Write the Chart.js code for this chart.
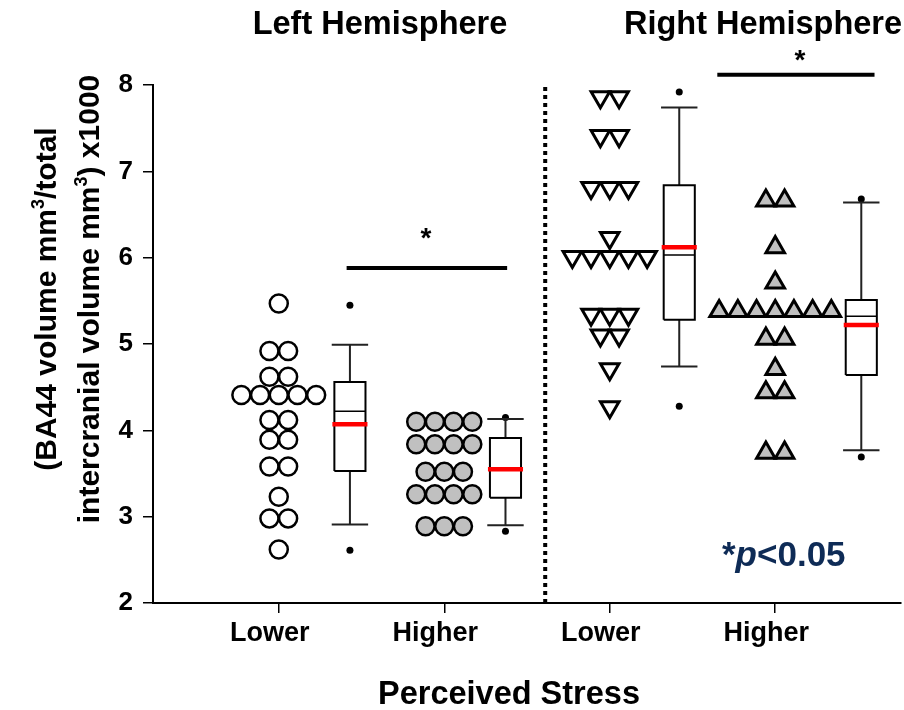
<!DOCTYPE html>
<html>
<head>
<meta charset="utf-8">
<script src="https://cdn.jsdelivr.net/npm/chart.js@4.4.1/dist/chart.umd.min.js"></script>
<style>
  html, body { margin: 0; padding: 0; background: #fff; overflow: hidden; }
  #wrap { width: 904px; height: 710px; }
  canvas { display: block; }
</style>
</head>
<body>
<div id="wrap"><canvas id="chart"></canvas></div>
<script>
const groupLabels = ['Lower', 'Higher', 'Lower', 'Higher']
const hemispheres = ['Left Hemisphere', 'Right Hemisphere']
const yTicks = [2, 3, 4, 5, 6, 7, 8]

// one value per subject
const leftLower = [5.47, 4.92, 4.92, 4.62, 4.62, 4.41, 4.41, 4.41, 4.41, 4.41,
  4.12, 4.12, 3.89, 3.89, 3.58, 3.58, 3.23, 2.98, 2.98, 2.62]
const leftHigher = [4.10, 4.10, 4.10, 4.10, 3.84, 3.84, 3.84, 3.84, 3.52, 3.52, 3.52,
  3.26, 3.26, 3.26, 3.26, 2.89, 2.89, 2.89]
const rightLower = [7.86, 7.86, 7.41, 7.41, 6.81, 6.81, 6.81, 6.23, 6.01, 6.01, 6.01, 6.01, 6.01,
  5.34, 5.34, 5.34, 5.10, 5.10, 4.71, 4.27]
const rightHigher = [6.66, 6.66, 6.12, 5.71, 5.38, 5.38, 5.38, 5.38, 5.38, 5.38, 5.38,
  5.06, 5.06, 4.71, 4.44, 4.44, 3.74, 3.74]

// box plot stats per group
const boxLow = [2.91, 2.90, 4.74, 3.77]
const boxQ1 = [3.53, 3.22, 5.28, 4.64]
const boxMedian = [4.22, 3.56, 6.03, 5.32]
const boxQ3 = [4.56, 3.91, 6.84, 5.51]
const boxHigh = [4.99, 4.13, 7.74, 6.64]
const boxMean = [4.07, 3.55, 6.12, 5.22]
const outlierLow = [2.61, 2.83, 4.28, 3.69]
const outlierHigh = [5.45, 4.15, 7.92, 6.68]

// significance bars
const sigFrom = [1.41, 3.65]
const sigTo = [2.38, 4.60]
const sigLevel = [5.88, 8.12]
const divider = 2.61

// layout
const dotGap = 0.113
const boxShift = [0.43, 0.37, 0.42, 0.52]
const boxHalf = 0.094
const capHalf = 0.11
const starShift = [[-1, -21], [4, -6]]
const FONT = '"Liberation Sans", Arial, sans-serif'
const NAVY = '#0e2b56'

const swarm = (values, center) => {
  const counts = {}
  values.forEach(v => counts[v] = (counts[v] || 0) + 1)
  const seen = {}
  return values.map(v => {
    seen[v] = (seen[v] === undefined) ? 0 : seen[v] + 1
    return { x: center + (seen[v] - (counts[v] - 1) / 2) * dotGap, y: v }
  })
}

const centers = groupLabels.map((_, i) => i + 1 + boxShift[i])
const gap = c => ({ x: c, y: null })

const whiskers = [], caps = [], boxes = [], medians = [], means = [], outliers = []
centers.forEach((c, i) => {
  whiskers.push({ x: c, y: boxHigh[i] }, { x: c, y: boxQ3[i] }, gap(c),
    { x: c, y: boxQ1[i] }, { x: c, y: boxLow[i] }, gap(c))
  caps.push({ x: c - capHalf, y: boxHigh[i] }, { x: c + capHalf, y: boxHigh[i] }, gap(c),
    { x: c - capHalf, y: boxLow[i] }, { x: c + capHalf, y: boxLow[i] }, gap(c))
  boxes.push({ x: c - boxHalf, y: boxQ1[i] }, { x: c - boxHalf, y: boxQ3[i] },
    { x: c + boxHalf, y: boxQ3[i] }, { x: c + boxHalf, y: boxQ1[i] },
    { x: c - boxHalf, y: boxQ1[i] }, gap(c))
  medians.push({ x: c - boxHalf, y: boxMedian[i] }, { x: c + boxHalf, y: boxMedian[i] }, gap(c))
  means.push({ x: c - boxHalf - 0.012, y: boxMean[i] }, { x: c + boxHalf + 0.012, y: boxMean[i] }, gap(c))
  outliers.push({ x: c, y: outlierLow[i] }, { x: c, y: outlierHigh[i] })
})

const lineSet = (data, color, width, extra) => Object.assign({
  data, showLine: true, pointRadius: 0, borderColor: color, borderWidth: width,
  fill: false, borderJoinStyle: 'miter', borderCapStyle: 'butt'
}, extra || {})

const dotSet = (values, center, style, fillColor, extra) => Object.assign({
  data: swarm(values, center), pointStyle: style, pointRadius: 9,
  pointBackgroundColor: fillColor, pointBorderColor: '#000', pointBorderWidth: 2.5
}, extra || {})

const sigSets = sigFrom.map((f, i) => lineSet(
  [{ x: f, y: sigLevel[i] }, { x: sigTo[i], y: sigLevel[i] }], '#000', 4, { clip: false }))

const labelsPlugin = {
  id: 'labelsPlugin',
  afterDraw(chart) {
    const { ctx, scales: { x, y } } = chart
    ctx.save()
    ctx.fillStyle = '#000'
    ctx.textAlign = 'center'
    ctx.textBaseline = 'alphabetic'
    ctx.font = 'bold 32.5px ' + FONT
    ctx.fillText(hemispheres[0], 380, 34)
    ctx.fillText(hemispheres[1], 763, 34)
    ctx.fillText('Perceived Stress', 509, 704)

    // stars over significance bars
    ctx.font = 'bold 28px ' + FONT
    sigFrom.forEach((f, i) => {
      const px = (x.getPixelForValue(f) + x.getPixelForValue(sigTo[i])) / 2
      ctx.fillText('*', px + starShift[i][0], y.getPixelForValue(sigLevel[i]) + starShift[i][1])
    })

    // y axis title with superscripts
    const yTitle = [
      [['(BA44 volume mm', 0], ['3', 1], ['/total', 0]],
      [['intercranial volume mm', 0], ['3', 1], [') x1000', 0]]
    ]
    const big = 'bold 30px ' + FONT, small = 'bold 18px ' + FONT
    yTitle.forEach((parts, li) => {
      let total = 0
      parts.forEach(([t, sup]) => { ctx.font = sup ? small : big; total += ctx.measureText(t).width })
      ctx.save()
      ctx.translate([56, 99][li], 299)
      ctx.rotate(-Math.PI / 2)
      ctx.textAlign = 'left'
      let cx = -total / 2
      parts.forEach(([t, sup]) => {
        ctx.font = sup ? small : big
        ctx.fillText(t, cx, sup ? -12 : 0)
        cx += ctx.measureText(t).width
      })
      ctx.restore()
    })

    // p value note
    ctx.fillStyle = NAVY
    ctx.textAlign = 'left'
    let px = 722
    const pParts = [['*', 'bold 35px '], ['p', 'italic bold 35px '], ['<0.05', 'bold 35px ']]
    pParts.forEach(([t, f]) => {
      ctx.font = f + FONT
      ctx.fillText(t, px, 566)
      px += ctx.measureText(t).width
    })
    ctx.restore()
  }
}

new Chart(document.getElementById('chart'), {
  type: 'scatter',
  data: {
    datasets: [
      lineSet(means, '#ff0000', 4.5),
      lineSet(medians, '#000', 1.5),
      lineSet(boxes, '#000', 2),
      lineSet(whiskers, '#222', 2),
      lineSet(caps, '#222', 2),
      { data: outliers, pointRadius: 3.5, pointBackgroundColor: '#000', pointBorderWidth: 0 },
      ...sigSets,
      dotSet(leftLower, 1, 'circle', '#fff'),
      dotSet(leftHigher, 2, 'circle', '#c0c0c0'),
      dotSet(rightLower, 3, 'triangle', '#fff', { pointRadius: 10.7, pointBorderWidth: 3, pointRotation: 180 }),
      dotSet(rightHigher, 4, 'triangle', '#c0c0c0', { pointRadius: 10.7, pointBorderWidth: 3 }),
      lineSet([{ x: divider, y: 2 }, { x: divider, y: 8 }], '#000', 4, { borderDash: [4, 4] })
    ]
  },
  options: {
    responsive: true,
    maintainAspectRatio: false,
    animation: false,
    events: [],
    layout: { autoPadding: false, padding: { top: 85, right: 3, left: 0, bottom: 0 } },
    plugins: {
      legend: { display: false },
      tooltip: { enabled: false }
    },
    scales: {
      x: {
        type: 'linear',
        min: 0.24,
        max: 4.76,
        afterFit: s => { s.height = 107; s.paddingLeft = 0; s.paddingRight = 0 },
        afterBuildTicks: s => { s.ticks = groupLabels.map((_, i) => ({ value: i + 1 })) },
        border: { color: '#000', width: 2 },
        grid: { drawOnChartArea: false, color: '#000', lineWidth: 1.5, tickLength: 10 },
        ticks: {
          callback: v => groupLabels[v - 1],
          color: '#000',
          padding: 4,
          labelOffset: -9,
          maxRotation: 0,
          font: { family: FONT, size: 27, weight: 'bold' }
        }
      },
      y: {
        min: 2,
        max: 8,
        afterFit: s => { s.width = 153 },
        afterBuildTicks: s => { s.ticks = yTicks.map(v => ({ value: v })) },
        border: { color: '#000', width: 2 },
        grid: { drawOnChartArea: false, color: '#000', lineWidth: 1.5, tickLength: 10 },
        ticks: {
          color: '#000',
          padding: 10,
          font: { family: FONT, size: 26, weight: 'bold' }
        }
      }
    }
  },
  plugins: [labelsPlugin]
})
</script>
</body>
</html>
